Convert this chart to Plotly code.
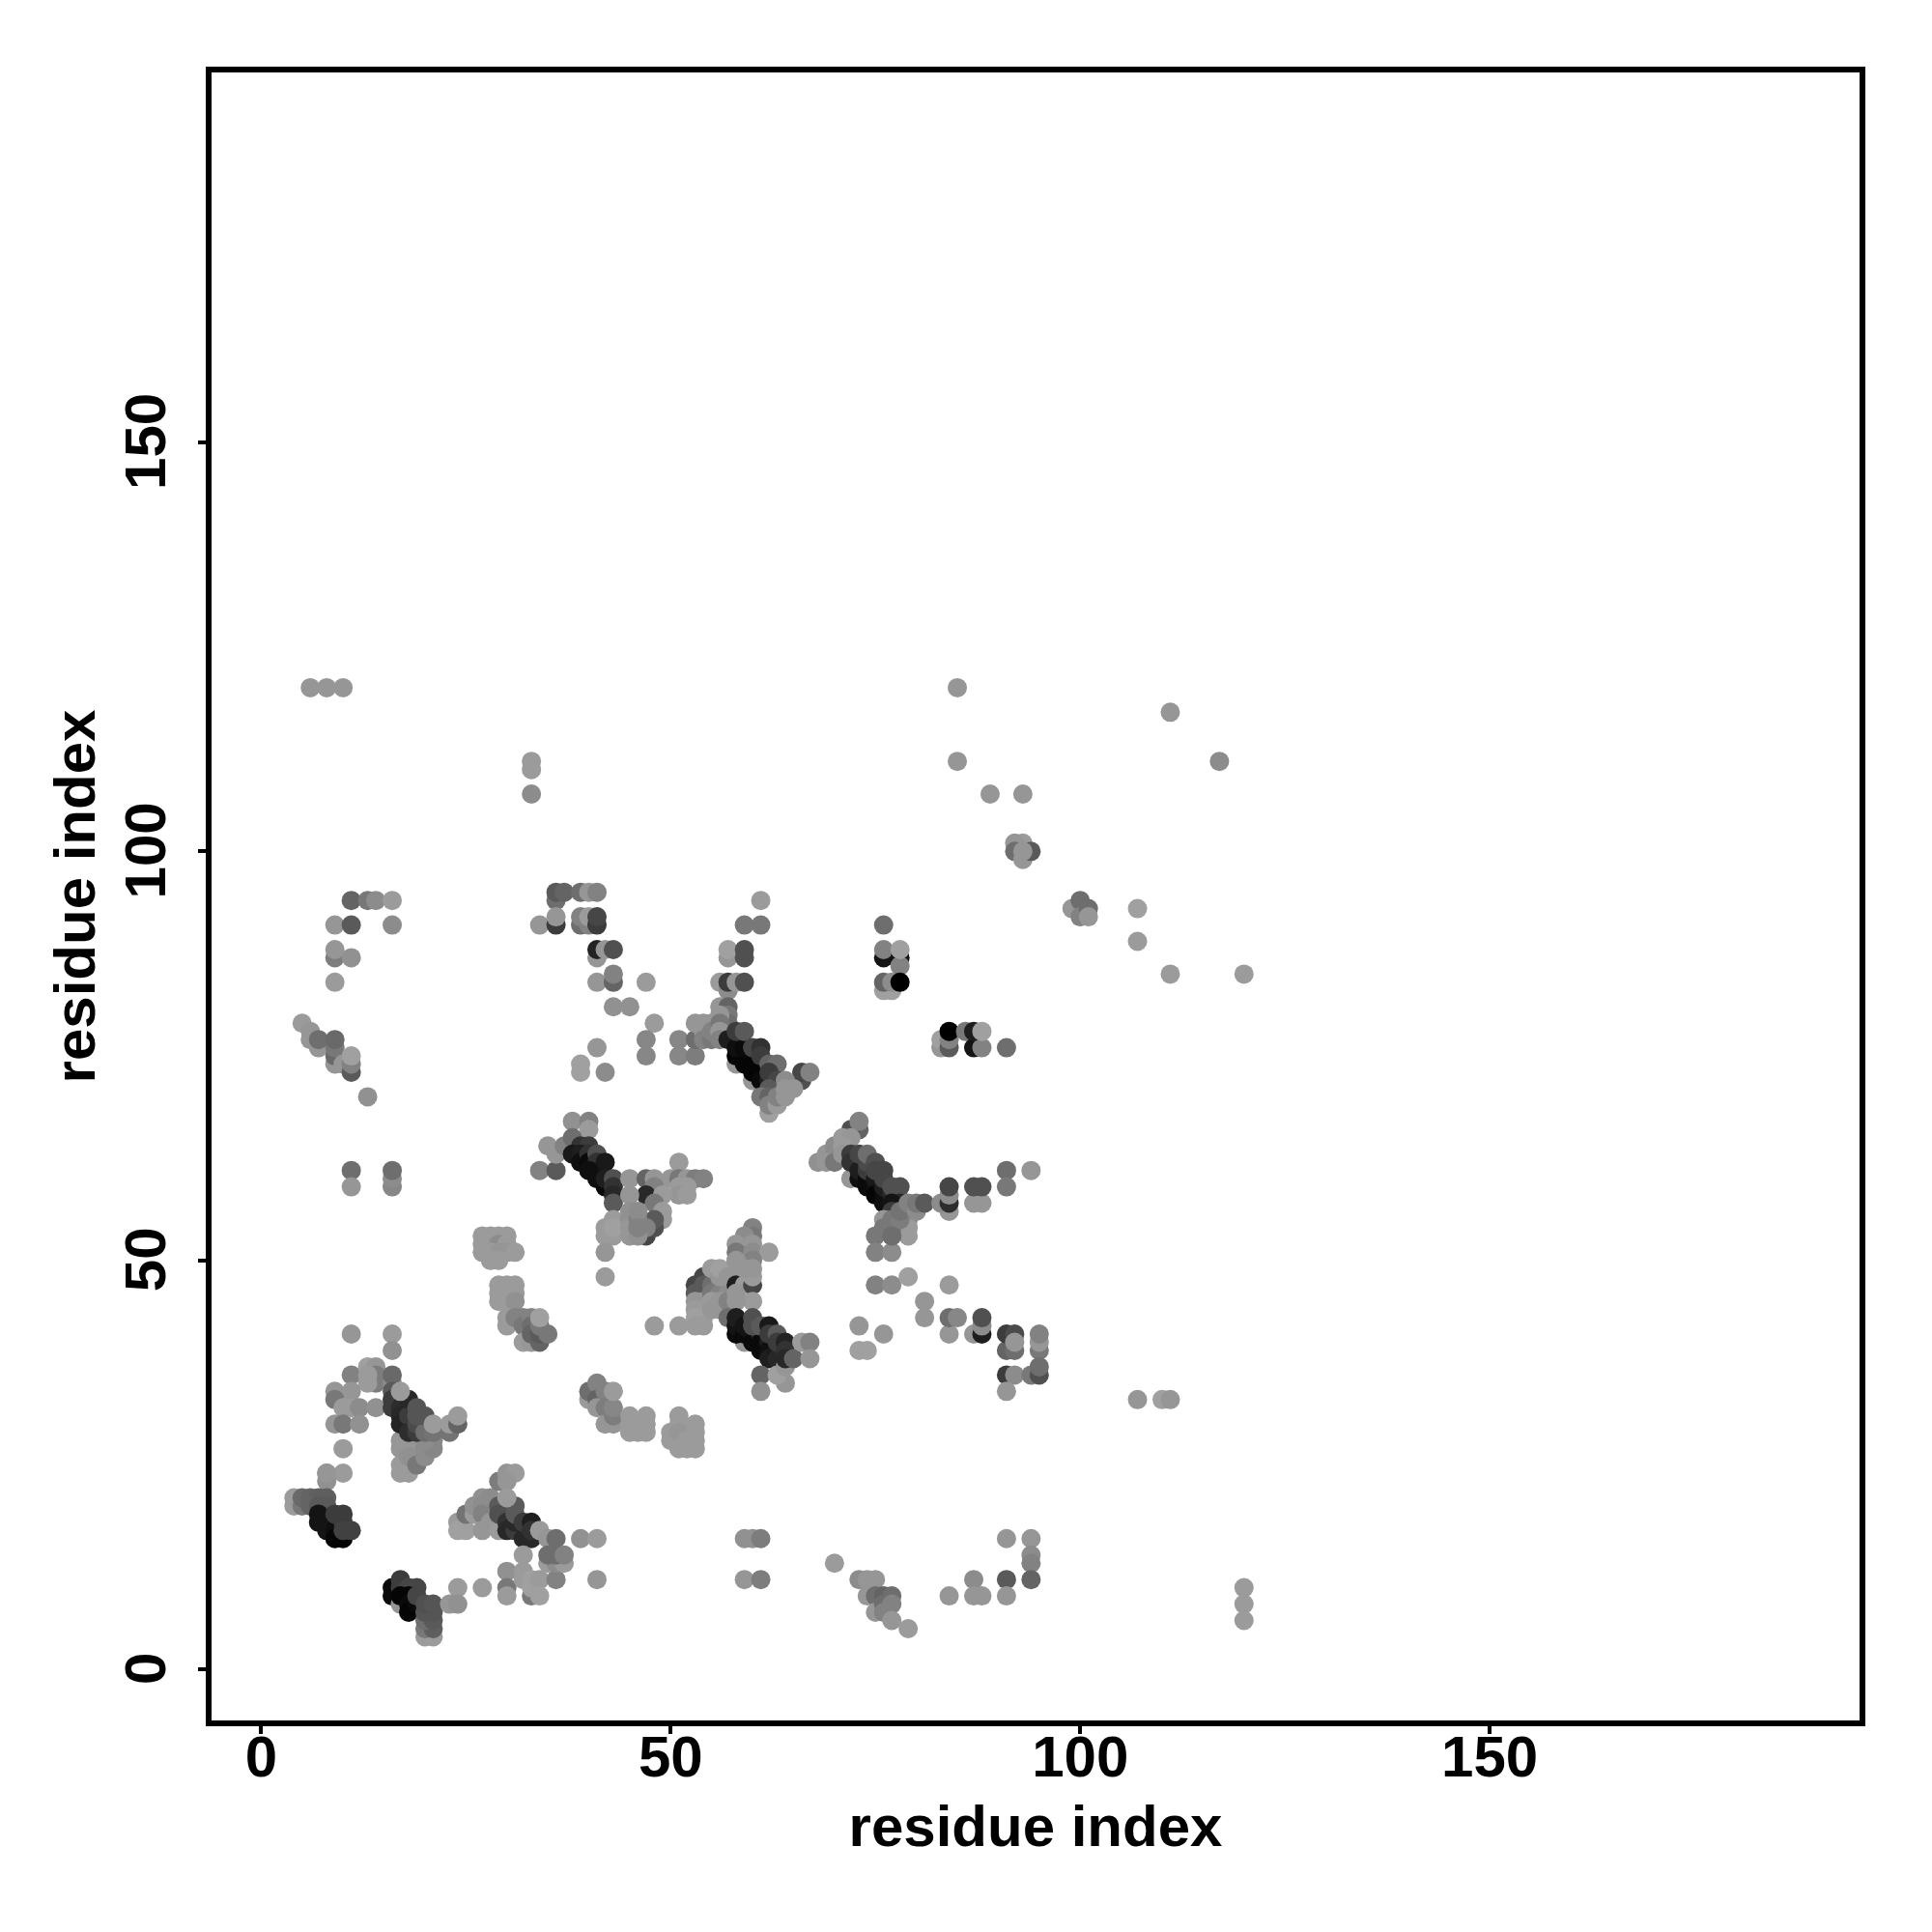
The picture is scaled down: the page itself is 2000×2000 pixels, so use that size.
import plotly.graph_objects as go

# (residue x, residue y, gray level)
scattered = [(6,120,150),(8,120,150),(10,120,150),(85,120,150),(85,111,150),(89,107,150),(93,107,150),
 (111,117,150),(117,111,140),(33,111,155),(33,110,155),(33,107,140),(93,101,155),(92,101,150),(92,100,110),(93,99,150),(94,100,90),(93,100,150),
 (99,93,150),(100,94,110),(100,92,130),(101,93,110),(101,92,150),(107,93,160),(107,89,155),(111,85,155),(120,85,155),
 (107,33,150),(110,33,160),(111,33,150),(120,10,155),(120,8,155),(120,6,155),(70,13,155),
 (73,11,140),(74,11,150),(75,11,150),(74,9,150),(75,9,110),(76,9,100),(77,9,110),(75,7,150),(76,8,110),(77,8,130),(76,7,130),(77,6,150),(79,5,155),
 (84,9,150),(87,11,140),(87,9,150),(88,9,150),(91,11,90),(91,9,150),(91,16,150),(94,16,150),(94,14,140),(94,13,130),(94,11,100),
 (59,16,145),(60,16,145),(61,16,125),(59,11,150),(61,11,125)]

upper_left = [(11,94,100),(13,94,120),(14,94,140),(16,94,155),(9,91,150),(11,91,90),(16,91,140),(9,87,125),(9,88,150),(11,87,145),(9,84,155),
 (5,79,155),(6,78,150),(6,77,150),(7,76,150),(7,77,110),(9,74,150),(9,75,105),(9,76,120),(9,77,105),(10,74,150),(11,73,90),(11,74,130),(11,75,160),(13,70,145),
 (11,61,110),(11,59,150),(16,59,135),(16,60,140),(16,61,110)]

top_middle = [(36,94,110),(36,95,90),(37,95,100),(39,95,110),(40,95,150),(41,95,130),(34,91,150),(36,91,60),(36,92,150),
 (39,91,110),(39,92,130),(40,91,130),(40,92,155),(41,91,60),(41,92,70),(41,87,150),(41,88,35),(42,88,150),(43,88,80),
 (41,84,150),(43,84,100),(43,85,130),(47,84,155),(43,81,145),(45,81,145),(48,79,155),(47,77,135),(47,75,135),
 (41,76,150),(39,74,160),(39,73,160),(42,73,140),(51,77,135),(51,75,135),(53,75,125),(53,77,110)]

column_76 = [(76,91,110),(76,87,20),(76,88,130),(78,87,20),(78,86,130),(78,88,160),(76,83,160),(77,83,160),(76,84,100),(77,84,140),(78,84,0),
 (83,76,150),(83,77,160),(84,76,90),(84,77,130),(84,78,0),(86,78,120),(87,76,20),(88,76,130),(87,78,30),(88,78,160),(91,76,110),
 (59,91,120),(61,91,120),(61,94,155),(57,87,150),(57,88,160),(59,87,80),(59,88,80),(56,84,155),(57,83,140),(57,84,60),(58,84,150),(59,84,80)]

helix_57 = [(56,81,150),(57,81,100),(57,80,120),(57,79,110),(53,79,150),(54,79,150),(54,78,150),(55,79,150),(54,77,130),(55,77,120),(55,78,130),(56,80,150),(56,79,120),(56,78,150),(56,77,130),
 (60,72,150),(58,74,150),(57,77,30),(58,75,5),(59,75,5),(59,74,5),(60,73,5),(61,73,5),(61,72,10),(62,72,30),(58,76,15),(59,76,10),(60,75,10),(60,74,5),
 (58,78,60),(59,78,90),(60,76,70),(61,76,50),(61,75,60),(62,74,100),(63,74,110),(62,73,60),(63,72,70),(63,71,60),(62,71,90),
 (62,68,160),(61,70,120),(62,70,100),(62,69,130),(63,69,155),(63,70,130),(64,70,150),(66,72,80),(66,73,70),(67,73,130),(64,72,140),(65,71,150),(64,71,150)]

helix_37 = [(35,64,150),(34,61,130),(36,61,90),(36,63,150),(37,64,130),(38,67,145),(40,67,130),(40,66,155),(38,65,110),(39,64,50),(40,64,60),(38,63,25),
 (39,63,30),(39,62,15),(40,63,50),(40,62,10),(41,61,10),(41,63,80),(41,62,50),(42,62,25),(40,61,15),(41,60,15),(42,59,10),(42,60,30),(43,60,80),(43,59,50),(43,58,40),(43,57,90),
 (45,60,150),(47,60,100),(48,60,150),(50,60,150),(51,62,155),(51,60,120),(52,60,150),(53,60,125),(54,60,130),(51,59,155),(52,59,155),(51,58,150),(52,58,155),
 (48,59,130),(47,58,40),(49,58,155),(48,57,120),(49,56,155),(49,55,155),(47,53,70),(48,54,80),(48,55,90),(47,54,130),
 (43,55,155),(42,54,155),(42,53,155),(43,53,155),(43,54,160),(45,58,150),(45,56,145),(45,55,145),(45,54,150),(45,53,150),(46,53,145),(46,55,130),(46,56,140),(46,54,130),(42,51,150),(42,48,155)]

helix_72 = [(73,66,100),(72,66,80),(73,67,130),(68,62,145),(69,63,150),(70,64,140),(71,65,155),(72,65,150),(70,63,140),(69,62,150),(70,62,120),(71,64,155),(71,63,150),
 (72,60,150),(72,63,60),(72,62,50),(73,60,15),(73,61,30),(74,59,10),(74,60,10),(74,61,60),(74,62,75),(75,59,15),(75,60,25),(75,58,5),(76,58,10),(76,57,15),(76,59,30),(76,60,70),(73,63,70),(74,63,110),(75,62,80),(75,61,70),(76,61,70),(77,58,40),(77,59,80),(78,59,80),(78,57,40),(77,57,20),(77,56,60),
 (79,55,140),(79,54,155),(79,53,155),(78,54,155),(76,55,150),(76,54,120),(77,53,110),(77,54,120),(77,55,120),(78,55,125),(78,56,115),(79,57,130),(80,56,140),(80,57,120),(81,57,90),
 (75,53,120),(75,51,130),(77,51,140),(77,53,110),(75,47,130),(77,47,140),(79,48,160),(84,47,155),(81,45,150),(81,43,150),(73,42,150),(76,41,150),(73,39,160),(74,39,160),
 (84,41,150),(84,43,110),(85,43,135),(87,41,150),(88,41,30),(88,42,140),(88,43,80),(91,39,100),(91,41,60),(92,41,75),(92,39,110),(92,40,150),(95,39,120),(95,40,150),(95,41,130),
 (91,36,60),(92,36,140),(94,36,120),(95,36,80),(95,37,110),(91,34,150),
 (91,61,110),(91,59,120),(94,61,150),(84,56,150),(83,57,140),(84,57,45),(84,58,140),(84,59,70),(87,57,150),(88,57,150),(87,59,80),(88,59,80)]

helix_59_low = [(53,47,70),(54,48,70),(53,46,90),(54,47,90),(53,45,150),(54,45,150),(55,47,110),(55,46,120),(56,47,120),(56,46,130),(57,46,140),(53,44,155),(54,44,155),(55,45,155),(56,45,150),(53,43,160),(54,43,160),(53,42,155),(54,42,155),(55,44,150),(56,44,150),(57,45,130),(48,42,155),(51,42,155),
 (55,49,155),(56,48,150),(56,49,160),(57,48,150),(58,50,120),(58,48,150),(58,47,30),(59,47,155),(58,46,150),(60,47,70),(60,48,155),(60,45,155),(58,45,150),(57,43,110),
 (60,54,130),(60,53,120),(59,53,140),(58,52,150),(60,52,150),(58,51,120),(60,51,140),(62,51,155),(60,50,130),(58,50,150),(59,49,150),(60,49,150),
 (59,40,150),(58,41,10),(58,42,20),(59,41,10),(58,43,30),(59,42,20),(60,41,20),(60,40,10),(61,41,50),(61,40,10),(61,39,10),(62,40,30),(62,39,15),(62,38,30),(63,39,25),(63,38,40),(61,36,100),(61,34,145),(64,35,150),(63,36,160),(64,37,150),
 (60,43,80),(60,42,80),(61,42,90),(62,42,25),(62,41,60),(63,41,90),(63,40,60),(64,40,35),(64,39,50),(64,38,40),(65,38,100),(66,40,155),(67,40,130),(67,38,150)]

helix_16 = [(11,41,150),(16,41,155),(16,39,145),(11,36,130),(13,37,160),(14,37,150),(14,36,125),(14,35,125),(13,35,155),(13,36,155),(9,34,150),(11,34,150),(9,33,120),(10,32,155),(11,32,155),(12,32,140),(14,32,145),
 (9,30,150),(10,30,120),(12,30,145),(10,27,155),(8,24,145),(8,23,145),(10,24,155),
 (17,25,155),(17,24,155),(18,24,155),(18,25,155),(17,28,150),(17,27,150),(19,27,140),(19,26,130),(18,27,150),(18,26,145),(19,25,120),(20,26,140),(20,27,140),(21,27,135),(21,28,135),(20,28,140),
 (16,35,140),(16,36,105),(16,34,90),(16,33,60),(16,32,60),(17,32,45),(17,31,40),(17,30,35),(18,30,35),(18,31,60),(18,29,45),(19,29,60),(19,30,75),(20,29,110),(18,33,40),(19,32,85),(19,31,85),(20,31,85),(17,34,155),
 (21,29,115),(21,30,155),(23,29,115),(23,30,155),(24,30,100),(24,31,155)]

helix_7 = [(4,20,155),(4,21,155),(5,20,120),(5,21,105),(6,21,100),(7,21,95),(8,21,95),(6,20,100),(7,20,90),(8,20,90),(8,24,150),(7,19,20),(7,18,20),(8,18,20),(8,17,20),(9,17,15),(9,16,5),(10,16,5),(9,19,60),(10,19,60),(10,18,60),(10,17,65),(11,17,65),
 (16,10,10),(16,9,10),(17,8,150),(17,11,60),(17,10,60),(18,10,70),(19,10,70),(17,9,5),(18,9,5),(18,8,10),(18,7,5),(19,8,10),(19,9,70),(20,4,155),(21,4,155),(20,5,120),(21,5,95),(20,6,110),(21,6,90),(20,7,85),(21,7,85),(20,8,80),(21,8,85),
 (24,10,155),(23,8,150),(24,8,145),(27,10,155)]

helix_30 = [(24,18,155),(24,17,160),(25,17,160),(25,19,115),(26,19,155),(26,20,145),(27,21,145),(27,20,140),(27,19,130),(28,21,140),(27,17,150),(28,18,150),(29,17,155),(29,23,125),(30,24,150),(31,24,155),(30,23,150),(29,20,90),(29,19,80),(30,18,50),(30,17,40),(31,17,60),(31,18,40),(31,19,90),(31,20,90),(30,21,155),(32,16,40),(33,16,40),(32,18,60),(33,18,30),(33,17,50),(34,17,155),(35,16,150),(36,16,110),(39,16,145),(41,16,155),(41,11,150),
 (30,12,145),(30,10,120),(30,9,155),(32,14,155),(32,12,155),(32,11,155),(33,9,120),(33,10,160),(33,11,160),(34,11,155),(34,9,160),(36,11,130),(35,13,155),(36,13,140),(37,13,155),(35,14,110),(36,14,110),(37,14,130)]

blobs = [(27,53,155),(28,53,155),(29,53,155),(30,53,155),(27,52,155),(28,52,155),(29,52,140),(30,52,155),(27,51,155),(28,51,155),(29,51,150),(30,51,150),(31,51,155),(28,50,155),(29,50,155),
 (29,47,155),(30,47,155),(31,47,155),(29,46,155),(30,46,155),(31,46,155),(29,45,155),(30,45,155),(31,45,145),
 (30,43,155),(30,42,155),(31,43,130),(32,43,130),(32,42,120),(33,43,130),(33,42,110),(32,40,155),(33,40,150),(34,40,100),(33,41,100),(34,41,90),(34,42,120),(35,41,120),(34,43,160),
 (40,33,155),(40,34,110),(41,35,130),(41,33,100),(41,32,150),(42,34,130),(42,32,125),(42,30,150),(43,30,150),(43,31,125),(43,32,135),(43,34,155),
 (45,31,155),(47,31,155),(45,29,155),(46,29,155),(47,29,155),(47,30,155),(45,30,155),(51,31,155),(50,29,155),(50,28,155),(51,30,155),(51,29,150),(52,28,155),(51,27,155),(52,27,155),(53,27,155),(53,28,155),(53,29,155),(53,30,155)]

residue_ticks = [0, 50, 100, 150]
axis_title = "residue index"

clusters = [scattered, upper_left, top_middle, column_76, blobs, helix_57, helix_37, helix_72, helix_59_low, helix_16, helix_7, helix_30]
points = [p for c in clusters for p in c]
font_family = "Liberation Sans"

fig = go.Figure(go.Scatter(
    x=[p[0] for p in points], y=[p[1] for p in points], mode="markers",
    marker=dict(size=20, color=[f"rgb({p[2]},{p[2]},{p[2]})" for p in points], line=dict(width=0)),
    hoverinfo="skip"))

axis_common = dict(tickvals=residue_ticks, ticktext=[f"<b>{v}</b>" for v in residue_ticks],
    showgrid=False, zeroline=False, showline=True, mirror=True, linecolor="black", linewidth=6,
    ticks="outside", ticklen=8, tickwidth=4, tickcolor="black",
    tickfont=dict(family=font_family, size=60, color="black"))

fig.update_layout(
    width=2000, height=2000, autosize=False, showlegend=False,
    paper_bgcolor="white", plot_bgcolor="white",
    margin=dict(l=211, r=83, t=67, b=227, autoexpand=False),
    xaxis=dict(**axis_common, range=[-6.06, 195.16], ticklabelstandoff=-28, title=dict(text=f"<b>{axis_title}</b>", font=dict(family=font_family, size=60, color="black"), standoff=20)),
    yaxis=dict(**axis_common, range=[-6.22, 195.2], ticklabelstandoff=10, ticklabelshift=8, tickangle=-90, title=dict(text=f"<b>{axis_title}</b>", font=dict(family=font_family, size=60, color="black"), standoff=1)),
)
fig.write_html("out.html")
